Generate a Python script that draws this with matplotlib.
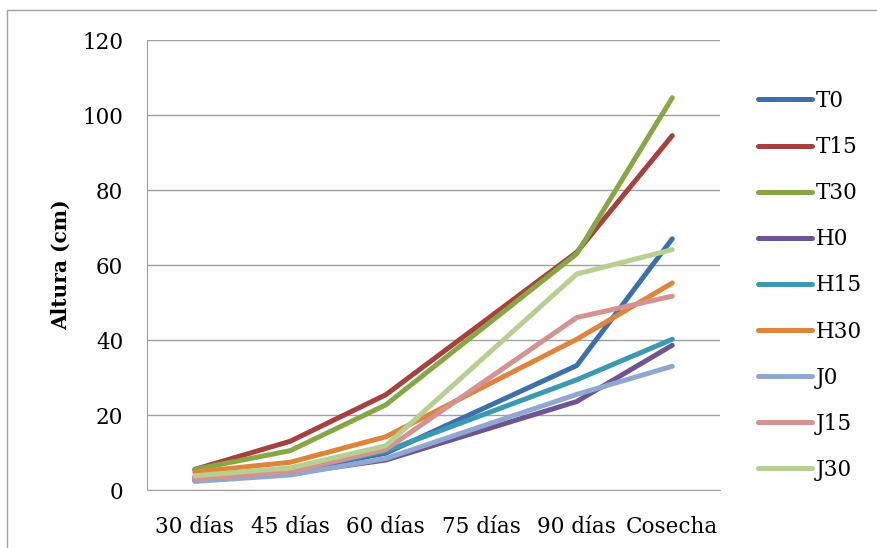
import numpy as np
import matplotlib
matplotlib.use("Agg")
import matplotlib.pyplot as plt
from matplotlib.patches import Rectangle

# etapas de muestreo (75 dias sin dato)
etapas = ["30 días", "45 días", "60 días", "75 días", "90 días", "Cosecha"]
nan = np.nan

T0 = [3.5, 5.0, 9.8, nan, 33.2, 67.0]
T15 = [5.5, 13.0, 25.4, nan, 63.4, 94.5]
T30 = [5.5, 10.5, 22.7, nan, 63.0, 104.6]
H0 = [2.6, 4.4, 8.0, nan, 23.6, 38.6]
H15 = [3.0, 5.0, 10.4, nan, 29.4, 40.2]
H30 = [4.8, 7.4, 14.2, nan, 40.2, 55.2]
J0 = [2.3, 4.0, 8.4, nan, 25.5, 33.0]
J15 = [3.0, 4.9, 10.8, nan, 46.0, 51.7]
J30 = [3.8, 5.9, 11.8, nan, 57.6, 64.1]

series = [T0, T15, T30, H0, H15, H30, J0, J15, J30]
nombres = ["T0", "T15", "T30", "H0", "H15", "H30", "J0", "J15", "J30"]
colores = ["#3B70AA", "#A8403E", "#86A844", "#6E5493", "#3A9AB3",
           "#E0843A", "#8FA8CF", "#D49290", "#B8CF92"]

plt.rcParams['font.family'] = ['DejaVu Serif']

fig = plt.figure(figsize=(8.77, 5.48), dpi=100)
ax = fig.add_axes([0.1676, 0.1058, 0.6534, 0.8212])

x = np.arange(len(etapas))
for vals, nom, col in zip(series, nombres, colores):
    v = np.array(vals, dtype=float)
    ok = ~np.isnan(v)
    ax.plot(x[ok], v[ok], color=col, lw=3.6, label=nom, solid_capstyle='round')

ax.set_xlim(-0.5, len(etapas) - 0.5)
ax.set_ylim(0, 120)
ax.set_yticks(range(0, 121, 20))
ax.set_xticks(x)
ax.set_xticklabels(etapas)
ax.tick_params(axis='both', length=0, labelsize=15.5, colors='#000000')
ax.tick_params(axis='y', pad=17)
ax.tick_params(axis='x', pad=19)
ax.grid(axis='y', color='#A0A0A0', lw=1)
ax.set_axisbelow(True)
for s in ['top', 'right']:
    ax.spines[s].set_visible(False)
ax.spines['left'].set_color('#A0A0A0')
ax.spines['bottom'].set_color('#A0A0A0')
ax.set_ylabel("Altura (cm)", fontsize=14.5, fontweight='bold', labelpad=8)

leg = ax.legend(loc='upper left', bbox_to_anchor=(1.051, 0.908), frameon=False,
                fontsize=15.5, handlelength=2.5, handletextpad=0.2,
                labelspacing=1.12, borderaxespad=0)

# marco exterior del grafico
fig.patches.append(Rectangle((7 / 877, -0.1), 2, 1 - 10 / 548 + 0.1,
                             transform=fig.transFigure, fill=False,
                             edgecolor='#A0A0A0', lw=1))

fig.savefig("out.png", dpi=100)
